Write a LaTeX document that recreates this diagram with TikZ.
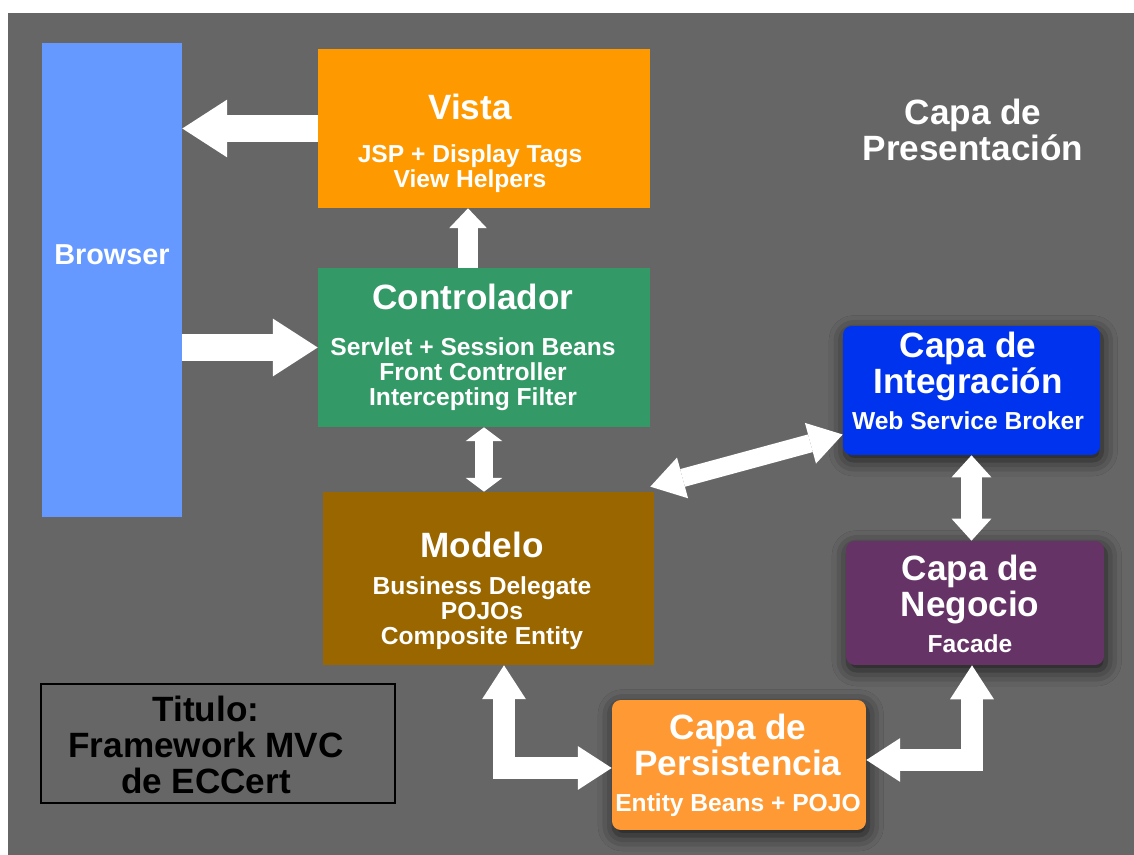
\documentclass[tikz,border=0pt]{standalone}
\usepackage{fontspec}
\setmainfont{Liberation Sans}
\usetikzlibrary{arrows.meta,shadows.blur}

\definecolor{fondo}{HTML}{666666}
\definecolor{browsercol}{HTML}{6699FF}
\definecolor{vistacol}{HTML}{FF9900}
\definecolor{ctrlcol}{HTML}{339966}
\definecolor{modelocol}{HTML}{996600}
\definecolor{integcol}{HTML}{0033EE}
\definecolor{negociocol}{HTML}{663366}
\definecolor{persistcol}{HTML}{FF9933}

\newcommand{\hd}[1]{{\fontsize{20}{20}\selectfont\rule[-4pt]{0pt}{20.5pt}#1}}

\tikzset{
	capa/.style={rectangle, inner sep=0pt},
	glow/.style={capa, rounded corners=5pt, blur shadow={shadow xshift=1pt, shadow yshift=-3pt, shadow blur radius=9pt, shadow opacity=75}},
	txt/.style={anchor=north, inner sep=0pt, align=center, text=white, font=\bfseries\fontsize{14}{14.2}\selectfont, execute at begin node={\lineskip=0pt\relax}},
	flecha/.style={draw=white, line join=miter},
}

\begin{document}
\begin{tikzpicture}[x=0.02cm, y=-0.02cm]
	\useasboundingbox (0,0) rectangle (1134,855);
	\fill[white] (0,0) rectangle (1134,855);
	\fill[fondo] (8,13) rectangle (1134,855);

	\node[capa, fill=browsercol, minimum width=2.8cm, minimum height=9.48cm] (browser) at (112,280) {};
	\node[capa, fill=vistacol, minimum width=6.64cm, minimum height=3.18cm] (vista) at (484,128.5) {};
	\node[capa, fill=ctrlcol, minimum width=6.64cm, minimum height=3.18cm] (ctrl) at (484,347.5) {};
	\node[capa, fill=modelocol, minimum width=6.62cm, minimum height=3.46cm] (modelo) at (488.5,578.5) {};
	\node[glow, fill=integcol, minimum width=5.14cm, minimum height=2.58cm] (integ) at (971.5,390.5) {};
	\node[glow, fill=negociocol, minimum width=5.16cm, minimum height=2.48cm] (negocio) at (975,603) {};
	\node[glow, fill=persistcol, minimum width=5.08cm, minimum height=2.6cm] (persist) at (739,765) {};
	\node[capa, draw=black, line width=0.9pt, minimum width=7.08cm, minimum height=2.38cm] (titulo) at (218,743.5) {};

	\node[txt, anchor=base, font=\bfseries\fontsize{16.4}{16}\selectfont] (browserT) at (112,265) {Browser};
	\node[txt] (vistaT) at (470,90) {\hd{Vista}\\[10.6pt]JSP + Display Tags\\View Helpers};
	\node[txt] (ctrlT) at (473,280) {\hd{Controlador}\\[12pt]Servlet + Session Beans\\Front Controller\\Intercepting Filter};
	\node[txt] (modeloT) at (482,528) {\hd{Modelo}\\[6.9pt]Business Delegate\\POJOs\\Composite Entity};
	\node[txt] (integT) at (968,328) {\hd{Capa de}\\\hd{Integración}\\[6pt]Web Service Broker};
	\node[txt] (negocioT) at (970,551) {\hd{Capa de}\\\hd{Negocio}\\[6pt]Facade};
	\node[txt] (persistT) at (738,710) {\hd{Capa de}\\\hd{Persistencia}\\[6pt]Entity Beans + POJO};
	\node[txt] (presT) at (973,95) {\hd{Capa de}\\\hd{Presentación}};
	\node[txt, text=black] (tituloT) at (206,692) {\hd{Titulo:}\\\hd{Framework MVC}\\\hd{de ECCert}};

	\draw[flecha, line width=15.9pt, -{Triangle[width=32.9pt, length=25.5pt, line width=0pt]}] (vista.west) -- (vista.west -| browser.east);
	\draw[flecha, line width=15.9pt, -{Triangle[width=32.9pt, length=25.5pt, line width=0pt]}] (ctrl.west -| browser.east) -- (ctrl.west);
	\draw[flecha, line width=11.3pt, -{Triangle[width=21.5pt, length=11.3pt, line width=0pt]}] ([shift={(-16,0)}]ctrl.north) -- ([shift={(-16,0)}]vista.south);
	\draw[flecha, line width=10.8pt, {Triangle[width=21pt, length=7.9pt, line width=0pt]}-{Triangle[width=21pt, length=7.9pt, line width=0pt]}] (ctrl.south) -- (ctrl.south |- modelo.north);
	\draw[flecha, line width=10.4pt, {Triangle[width=24pt, length=19pt, line width=0pt]}-{Triangle[width=24pt, length=19pt, line width=0pt]}] ([shift={(-4,-5)}]modelo.north east) -- ([shift={(0,44)}]integ.west);
	\draw[flecha, line width=11.9pt, {Triangle[width=22.7pt, length=12.5pt, line width=0pt]}-{Triangle[width=22.7pt, length=12.5pt, line width=0pt]}] (integ.south) -- (integ.south |- negocio.north);
	\draw[flecha, line width=12.8pt, {Triangle[width=25pt, length=19.3pt, line width=0pt]}-{Triangle[width=25pt, length=19.3pt, line width=0pt]}] ([shift={(15.5,0)}]modelo.south) |- ([shift={(0,3)}]persist.west);
	\draw[flecha, line width=12.8pt, {Triangle[width=25pt, length=19.3pt, line width=0pt]}-{Triangle[width=25pt, length=19.3pt, line width=0pt]}] ([shift={(-3,0)}]negocio.south) |- ([shift={(0,-5)}]persist.east);
\end{tikzpicture}
\end{document}
